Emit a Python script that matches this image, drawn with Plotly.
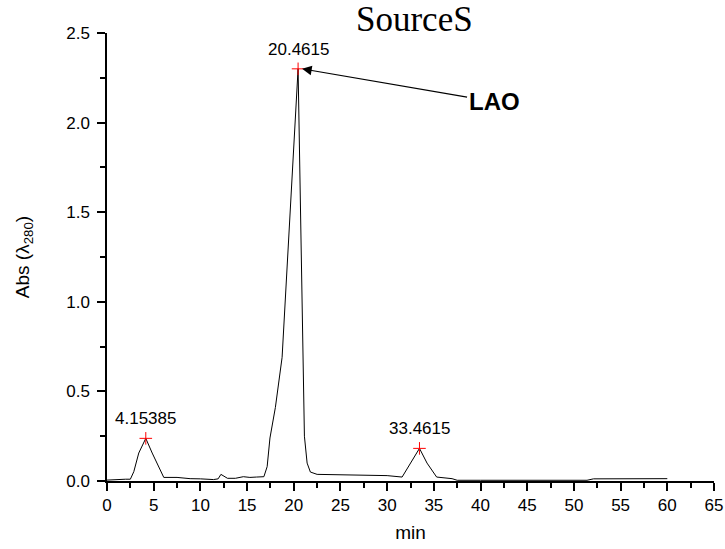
import plotly.graph_objects as go

# Chromatogram trace (min, absorbance at 280 nm)
time_min = [0.0, 0.65, 1.3, 2.0, 2.5, 2.87, 3.4, 4.15385, 4.84, 5.55, 6.08, 7.5, 8.9,
            10.0, 11.4, 11.9, 12.2, 12.9, 13.75, 14.6, 15.3, 16.0, 16.8, 17.15, 17.45,
            18.03, 18.75, 20.4615, 21.14, 21.43, 21.78, 22.5, 24.0, 26.0, 28.0, 30.0,
            31.6, 32.5, 33.4615, 34.27, 35.3, 36.95, 37.5, 40.0, 45.0, 50.0, 51.4,
            52.1, 55.0, 60.0]
absorbance = [0.005, 0.008, 0.01, 0.01, 0.01, 0.052, 0.156, 0.238, 0.156, 0.08, 0.02, 0.02,
              0.013, 0.012, 0.008, 0.012, 0.037, 0.015, 0.015, 0.024, 0.02, 0.022, 0.024,
              0.08, 0.24, 0.41, 0.69, 2.30, 0.25, 0.10, 0.05, 0.037, 0.035, 0.033, 0.032,
              0.03, 0.022, 0.10, 0.182, 0.10, 0.022, 0.013, 0.004, 0.004, 0.004, 0.004,
              0.004, 0.012, 0.012, 0.013]

# Picked peaks
peak_time = [4.15385, 20.4615, 33.4615]
peak_abs = [0.238, 2.30, 0.182]
peak_labels = ["4.15385", "20.4615", "33.4615"]

title_text = "SourceS"
arrow_label = "LAO"

fig = go.Figure()
fig.add_trace(go.Scatter(x=time_min, y=absorbance, mode="lines",
                         line=dict(color="black", width=1), showlegend=False,
                         hoverinfo="skip"))
fig.add_trace(go.Scatter(x=peak_time, y=peak_abs, mode="markers",
                         marker=dict(symbol="cross-thin", size=9,
                                     line=dict(color="red", width=1)),
                         showlegend=False))

for t, a, lab in zip(peak_time, peak_abs, peak_labels):
    fig.add_annotation(x=t, y=a, text=lab, showarrow=False, xanchor="center",
                       yanchor="bottom", yshift=8,
                       font=dict(family="Liberation Sans, Arial", size=17, color="black"))

# LAO arrow
fig.add_annotation(x=peak_time[1], y=peak_abs[1], xshift=4, text="<b>%s</b>" % arrow_label,
                   showarrow=True, ax=192, ay=33, axref="pixel", ayref="pixel",
                   arrowhead=2, arrowsize=1.6, arrowwidth=1.2, arrowcolor="black",
                   font=dict(family="Liberation Sans, Arial", size=24, color="black"))

# Title
fig.add_annotation(xref="paper", yref="paper", x=0.507, y=1, text=title_text,
                   showarrow=False, xanchor="center", yanchor="bottom", yshift=-8,
                   font=dict(family="Liberation Serif, Times New Roman", size=35,
                             color="black"))

axis_common = dict(showline=True, linecolor="black", linewidth=1.5, ticks="outside",
                   ticklen=8, tickwidth=1.5, tickcolor="black", showgrid=False,
                   zeroline=False, mirror=False, automargin=False,
                   tickfont=dict(family="Liberation Sans, Arial", size=17, color="black"),
                   title_font=dict(family="Liberation Sans, Arial", size=19, color="black"))

fig.update_xaxes(range=[0, 65], dtick=5, tick0=0,
                 minor=dict(dtick=2.5, ticks="outside", ticklen=5, tickwidth=1.5,
                            tickcolor="black", showgrid=False),
                 title_text="min", title_standoff=12, **axis_common)
fig.update_yaxes(range=[0, 2.5], dtick=0.5, tick0=0, tickformat=".1f",
                 minor=dict(dtick=0.25, ticks="outside", ticklen=5, tickwidth=1.5,
                            tickcolor="black", showgrid=False),
                 title_text="Abs (λ<sub>280</sub>)", title_standoff=32,
                 ticklabelstandoff=4, **axis_common)

fig.update_layout(width=725, height=549, margin=dict(l=107, r=11, t=33, b=68),
                  plot_bgcolor="white", paper_bgcolor="white")

fig.write_html("out.html")
